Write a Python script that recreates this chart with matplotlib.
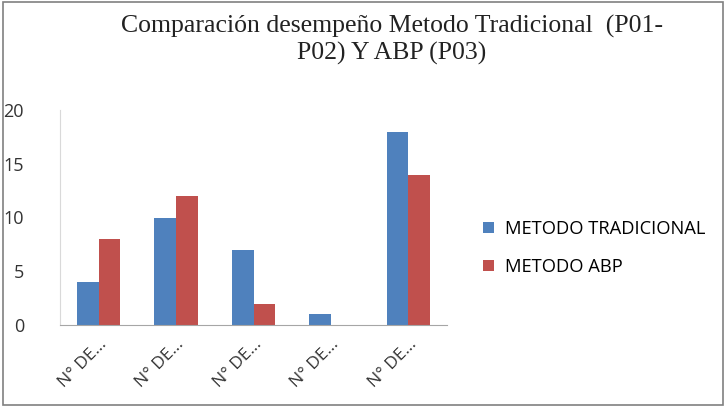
import matplotlib.pyplot as plt
import matplotlib.transforms as mtransforms
import numpy as np

categories = ["N° DE...", "N° DE...", "N° DE...", "N° DE...", "N° DE..."]
tradicional = [4, 10, 7, 1, 18]
abp = [8, 12, 2, 0, 14]
yticks = [0, 5, 10, 15, 20]

fig = plt.figure(figsize=(7.26, 4.07), dpi=100)
ax = fig.add_axes([60/726, 1-325/407, (447-60)/726, (325-110)/407])

x = np.arange(len(categories))
w = 0.28
ax.bar(x - w/2, tradicional, w, color="#4F81BD", label="METODO TRADICIONAL")
ax.bar(x + w/2, abp, w, color="#C0504D", label="METODO ABP")

ax.set_xlim(-0.5, len(categories) - 0.5)
ax.set_ylim(0, 20)
ax.set_yticks(yticks)
ax.set_xticks(x)
ax.set_xticklabels(categories, rotation=45, ha="right", rotation_mode="anchor",
                   fontsize=12.5, family="Open Sans", color="#333333")
shift = mtransforms.ScaledTranslation(15/100, -3/100, fig.dpi_scale_trans)
for lab in ax.get_xticklabels():
    lab.set_transform(lab.get_transform() + shift)
for lab in ax.get_yticklabels():
    lab.set_family("Open Sans")
    lab.set_fontsize(13)
    lab.set_color("#333333")
ax.tick_params(axis="y", length=0, pad=26)
ax.tick_params(axis="x", length=0, pad=8)
for s in ["top", "right"]:
    ax.spines[s].set_visible(False)
ax.spines["left"].set_color("#d9d9d9")
ax.spines["bottom"].set_color("#a6a6a6")

fig.text(0.54, 1-40/407, "Comparación desempeño Metodo Tradicional  (P01-\nP02) Y ABP (P03)",
         ha="center", va="center", fontsize=18.5, family="Liberation Serif",
         linespacing=1.2, color="#222222")

fig.legend(loc="center left", bbox_to_anchor=(466/726, 1-248/407), frameon=False,
           prop={"family": "Open Sans", "size": 13.2}, handlelength=0.6, handleheight=0.6,
           labelspacing=1.1, handletextpad=0.6)

fig.patches.append(plt.Rectangle((3/726, 0.005), 720/726, 0.99, transform=fig.transFigure,
                                 fill=False, edgecolor="#808080", linewidth=1.2))

fig.savefig("out.png", dpi=100)
